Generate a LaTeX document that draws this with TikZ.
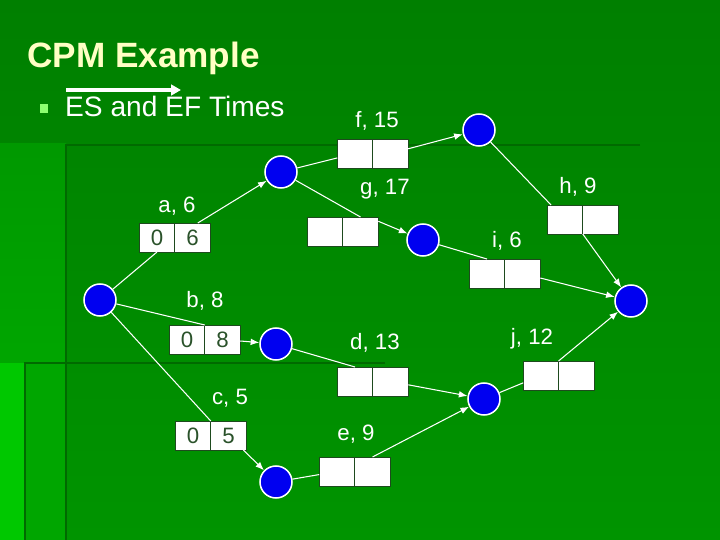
\documentclass[tikz,border=0pt]{standalone}
\usepackage{fontspec}
\setmainfont{Liberation Sans}
\usetikzlibrary{arrows.meta,positioning}
\definecolor{SlideTop}{HTML}{007F00}
\definecolor{SlideBottom}{HTML}{009400}
\definecolor{BandGreen}{HTML}{00A600}
\definecolor{EdgeGreen}{HTML}{00C800}
\definecolor{RuleGreen}{HTML}{006A00}
\definecolor{TitleCream}{HTML}{FFFFC4}
\definecolor{BulletGreen}{HTML}{8CFF70}
\definecolor{EventBlue}{HTML}{0000F0}
\definecolor{CellLine}{HTML}{1E4A1E}
\definecolor{CellText}{HTML}{2A522A}

\begin{document}
\begin{tikzpicture}[x=0.03cm, y=-0.03cm,
  event/.style={circle, fill=EventBlue, draw=white, line width=1.3pt, minimum size=0.96cm, inner sep=0pt},
  cell/.style={rectangle, fill=white, draw=CellLine, line width=0.6pt, minimum width=1.065cm, minimum height=0.87cm, inner sep=0pt, outer sep=0pt, text=CellText, font=\fontsize{19pt}{21pt}\selectfont},
  lbl/.style={anchor=base, text=white, font=\fontsize{19pt}{21pt}\selectfont},
  ln/.style={white, line width=0.9pt},
  arr/.style={-{Latex[length=2.6mm,width=2mm]}, white, line width=0.9pt}
]
\useasboundingbox (0,0) rectangle (720,540);
% slide background
\shade[top color=SlideTop, bottom color=SlideBottom] (0,0) rectangle (720,540);
\shade[top color=BandGreen!92!black, bottom color=BandGreen!70!EdgeGreen] (0,144) rectangle (66,540);
\fill[EdgeGreen] (0,363) rectangle (25,540);
\fill[BandGreen] (25,363) rectangle (66,540);
\draw[RuleGreen, line width=1.8pt] (640,145) -- (66,145) -- (66,540);
\draw[RuleGreen, line width=1.8pt] (385,363) -- (25,363) -- (25,540);

% title and bullet
\node[anchor=base west, text=TitleCream, font=\fontsize{30pt}{32pt}\selectfont\bfseries, inner sep=0pt] (title) at (27,68) {CPM Example};
\node[fill=BulletGreen, minimum width=0.24cm, minimum height=0.26cm, inner sep=0pt] (bullet) at (44,108.5) {};
\node[anchor=base west, text=white, font=\fontsize{24pt}{26pt}\selectfont, inner sep=0pt] (sub) at (65,117) {ES and EF Times};
\coordinate (pass1) at (66,90);
\coordinate (pass2) at (181,90);
\draw[white, line width=2.6pt, -{Triangle[length=3mm,width=3.2mm]}] (pass1) -- (pass2);

% events
\node[event] (n1) at (100,300) {};
\node[event] (n2) at (281,172) {};
\node[event] (n3) at (479,130) {};
\node[event] (n4) at (423,240) {};
\node[event] (n5) at (631,301) {};
\node[event] (n6) at (276,344) {};
\node[event] (n7) at (276,482) {};
\node[event] (n8) at (484,399) {};

% activity boxes (ES | EF)
\node[cell] (aES) at (157,237.5) {0};
\node[cell, right=0pt of aES] (aEF) {6};
\node[cell] (bES) at (187,339.5) {0};
\node[cell, right=0pt of bES] (bEF) {8};
\node[cell] (cES) at (193,435.5) {0};
\node[cell, right=0pt of cES] (cEF) {5};
\node[cell] (dES) at (355,381.5) {};
\node[cell, right=0pt of dES] (dEF) {};
\node[cell] (eES) at (337,471.5) {};
\node[cell, right=0pt of eES] (eEF) {};
\node[cell] (fES) at (355,153.5) {};
\node[cell, right=0pt of fES] (fEF) {};
\node[cell] (gES) at (325,231.5) {};
\node[cell, right=0pt of gES] (gEF) {};
\node[cell] (hES) at (565,219.5) {};
\node[cell, right=0pt of hES] (hEF) {};
\node[cell] (iES) at (487,273.5) {};
\node[cell, right=0pt of iES] (iEF) {};
\node[cell] (jES) at (541,375.5) {};
\node[cell, right=0pt of jES] (jEF) {};

% activity labels
\node[lbl] (aLbl) at (177,213) {a, 6};
\node[lbl] (bLbl) at (205,308) {b, 8};
\node[lbl] (cLbl) at (230,404) {c, 5};
\node[lbl] (dLbl) at (375,350) {d, 13};
\node[lbl] (eLbl) at (356,440) {e, 9};
\node[lbl] (fLbl) at (377,128) {f, 15};
\node[lbl] (gLbl) at (385,195) {g, 17};
\node[lbl] (hLbl) at (578,194) {h, 9};
\node[lbl] (iLbl) at (507,248) {i, 6};
\node[lbl] (jLbl) at (532,345) {j, 12};

% connectors
\draw[ln] (n1) -- (aES.south);
\draw[arr] (aEF.70) -- (n2);
\draw[ln] (n1) -- (bES.north east);
\draw[arr] (bEF) -- (n6);
\draw[ln] (n1) -- (cES.north east);
\draw[arr] (cEF) -- (n7);
\draw[ln] (n2) -- (fES);
\draw[arr] (fEF) -- (n3);
\draw[ln] (n2) -- (gEF.north);
\draw[arr] (gEF.30) -- (n4);
\draw[ln] (n3) -- (hES);
\draw[arr] (hES.south east) -- (n5);
\draw[ln] (n4) -- (iES.north);
\draw[arr] (iEF) -- (n5);
\draw[ln] (n6) -- (dES.north);
\draw[arr] (dEF) -- (n8);
\draw[ln] (n7) -- (eES);
\draw[arr] (eEF.north) -- (n8);
\draw[ln] (n8) -- (jES);
\draw[arr] (jES) -- (n5);
\end{tikzpicture}
\end{document}
